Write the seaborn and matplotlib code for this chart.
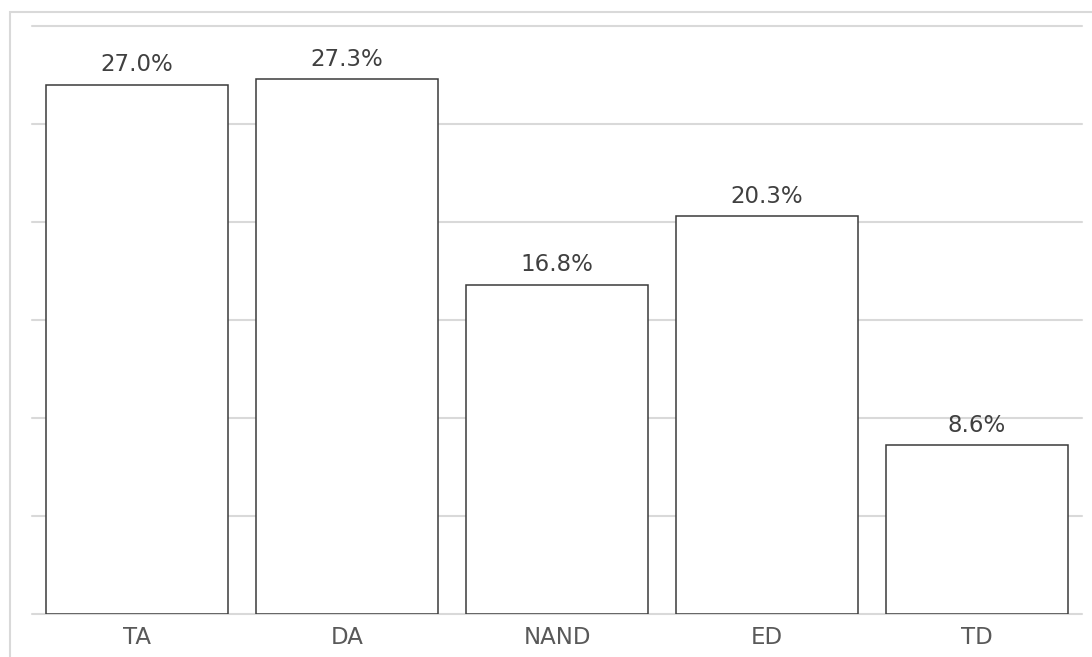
import matplotlib
matplotlib.use("Agg")
import matplotlib.pyplot as plt
from matplotlib.patches import Rectangle
import seaborn as sns

categories = ["TA", "DA", "NAND", "ED", "TD"]
shares = [27.0, 27.3, 16.8, 20.3, 8.6]
y_ticks = [0, 5, 10, 15, 20, 25, 30]

sns.set_theme(style="white")
plt.rcParams["font.family"] = ["DejaVu Sans"]

fig = plt.figure(figsize=(10.92, 6.57), dpi=100)
ax = fig.add_axes([32 / 1092, 1 - 614 / 657, 1050 / 1092, 588 / 657])

sns.barplot(x=categories, y=shares, color="white", edgecolor="#3a3a3a",
            linewidth=1.1, width=0.867, saturation=1, ax=ax, zorder=3)

ax.set_ylim(0, 30)
ax.set_xlim(-0.5, 4.5)
ax.set_yticks(y_ticks)
ax.set_yticklabels([])
ax.yaxis.grid(True, color="#d9d9d9", linewidth=1.5, zorder=0)
for gl in ax.get_ygridlines():
    gl.set_clip_on(False)
ax.set_axisbelow(True)
for s in ax.spines.values():
    s.set_visible(False)
ax.tick_params(axis="both", length=0)
ax.tick_params(axis="x", pad=9, labelsize=16.5, labelcolor="#595959")

for container in ax.containers:
    ax.bar_label(container, labels=[f"{v:.1f}%" for v in shares],
                 padding=6, fontsize=16.5, color="#404040")

# outer chart frame
fig.patches.append(Rectangle((10 / 1092, -0.1), 1.2, 1.1 - 12 / 657,
                             transform=fig.transFigure, fill=False,
                             edgecolor="#d9d9d9", linewidth=1.5, zorder=0))

fig.savefig("out.png", dpi=100, facecolor="white")
